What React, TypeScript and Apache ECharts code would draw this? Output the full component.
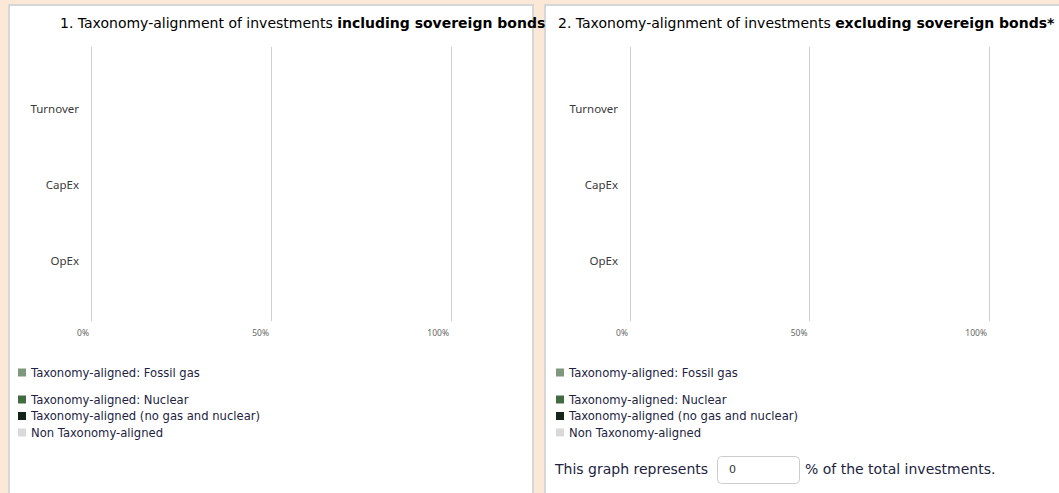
import React, { useEffect, useRef } from "react";
import * as echarts from "echarts";

const categories = ["Turnover", "CapEx", "OpEx"];
const seriesNames = [
  "Taxonomy-aligned: Fossil gas",
  "Taxonomy-aligned: Nuclear",
  "Taxonomy-aligned (no gas and nuclear)",
  "Non Taxonomy-aligned",
];
const seriesColors = ["#7f977d", "#426b42", "#15241a", "#d9d9d9"];
// Panel 1: including sovereign bonds (all values are 0 in the picture)
const inclFossilGas = [0, 0, 0];
const inclNuclear = [0, 0, 0];
const inclAligned = [0, 0, 0];
const inclNonAligned = [0, 0, 0];
// Panel 2: excluding sovereign bonds
const exclFossilGas = [0, 0, 0];
const exclNuclear = [0, 0, 0];
const exclAligned = [0, 0, 0];
const exclNonAligned = [0, 0, 0];
const xTicks = [0, 50, 100];
const shareOfInvestments = "0";

const panelData = [
  [inclFossilGas, inclNuclear, inclAligned, inclNonAligned],
  [exclFossilGas, exclNuclear, exclAligned, exclNonAligned],
];

const NAVY = "#22243f";
const CAT_FONT = "'Noto Sans', Lato, sans-serif";
const MAIN_FONT = "'DejaVu Sans', sans-serif";

export default function App() {
  const ref = useRef<HTMLDivElement>(null);

  useEffect(() => {
    if (!ref.current) return;
    const chart = echarts.init(ref.current, undefined, { renderer: "svg" });

    const panels = [
      { left: 91, width: 360, legendLeft: 13 },
      { left: 630, width: 359, legendLeft: 551 },
    ];

    const grid: any[] = [];
    const xAxis: any[] = [];
    const yAxis: any[] = [];
    const series: any[] = [];
    const legend: any[] = [];

    const legendText = { color: NAVY, fontSize: 11.6, fontFamily: MAIN_FONT, lineHeight: 13 };

    panels.forEach((p, pi) => {
      grid.push({ left: p.left, width: p.width, top: 47, height: 274 });
      grid.push({ left: p.left, width: p.width, top: 70, height: 228 });
      const g0 = pi * 2;
      const g1 = pi * 2 + 1;
      xAxis.push({
        type: "value",
        gridIndex: g0,
        min: 0,
        max: 100,
        interval: 50,
        axisLine: { show: false },
        axisTick: { show: false },
        splitLine: { show: true, lineStyle: { color: "#cfcfcf", width: 1 } },
        axisLabel: {
          formatter: (v: number) => (xTicks.includes(v) ? v + "%" : ""),
          color: "#666",
          fontSize: 8.5,
          fontFamily: CAT_FONT,
          align: "right",
          margin: 7,
          padding: [0, 2, 0, 0],
        },
      });
      xAxis.push({
        type: "value",
        gridIndex: g1,
        min: 0,
        max: 100,
        show: false,
      });
      yAxis.push({
        type: "category",
        gridIndex: g0,
        data: categories,
        show: false,
      });
      yAxis.push({
        type: "category",
        gridIndex: g1,
        data: categories,
        inverse: true,
        axisLine: { show: false },
        axisTick: { show: false },
        axisLabel: {
          color: "#3a3a3a",
          fontSize: 11.5,
          fontFamily: CAT_FONT,
          margin: 12,
        },
      });
      seriesNames.forEach((name, si) => {
        series.push({
          type: "bar",
          name,
          xAxisIndex: g1,
          yAxisIndex: g1,
          stack: "p" + pi,
          barWidth: 30,
          itemStyle: { color: seriesColors[si] },
          data: panelData[pi][si],
        });
      });
      legend.push({
        orient: "vertical",
        left: p.legendLeft,
        top: 361,
        itemWidth: 8,
        itemHeight: 8,
        itemGap: 3.5,
        icon: "rect",
        selectedMode: false,
        data: [seriesNames[0]],
        textStyle: legendText,
      });
      legend.push({
        orient: "vertical",
        left: p.legendLeft,
        top: 388,
        itemWidth: 8,
        itemHeight: 8,
        itemGap: 3.5,
        icon: "rect",
        selectedMode: false,
        data: seriesNames.slice(1),
        textStyle: legendText,
      });
    });

    const titleRich = {
      n: { fontSize: 14, fontFamily: MAIN_FONT, color: NAVY },
      b: { fontSize: 14, fontFamily: MAIN_FONT, color: NAVY, fontWeight: "bold" },
    };

    chart.setOption({
      animation: false,
      backgroundColor: "transparent",
      grid,
      xAxis,
      yAxis,
      series,
      legend,
      graphic: [
        {
          type: "text",
          left: 60,
          top: 16,
          style: {
            text: "{n|1. Taxonomy-alignment of investments }{b|including sovereign bonds}",
            rich: titleRich,
          },
        },
        {
          type: "text",
          left: 558,
          top: 16,
          style: {
            text: "{n|2. Taxonomy-alignment of investments }{b|excluding sovereign bonds*}",
            rich: titleRich,
          },
        },
        {
          type: "text",
          left: 555,
          top: 462,
          style: {
            text: "This graph represents",
            fontSize: 14,
            fontFamily: MAIN_FONT,
            fill: NAVY,
          },
        },
        {
          type: "rect",
          shape: { x: 717.5, y: 456.5, width: 82, height: 27, r: 4 },
          style: { fill: "#fff", stroke: "#cccccc", lineWidth: 1 },
        },
        {
          type: "text",
          left: 729,
          top: 464,
          style: {
            text: shareOfInvestments,
            fontSize: 11,
            fontFamily: MAIN_FONT,
            fill: "#333",
          },
        },
        {
          type: "text",
          left: 805,
          top: 462,
          style: {
            text: "% of the total investments.",
            fontSize: 14,
            fontFamily: MAIN_FONT,
            fill: NAVY,
          },
        },
      ],
    });

    return () => chart.dispose();
  }, []);

  return (
    <div
      style={{
        position: "fixed",
        left: 0,
        top: 0,
        width: 1059,
        height: 493,
        background: "#fce8d6",
        overflow: "hidden",
      }}
    >
      <div
        style={{
          position: "absolute",
          left: 8,
          top: 4,
          width: 522,
          height: 520,
          background: "#fff",
          border: "2px solid #d6d6d6",
        }}
      />
      <div
        style={{
          position: "absolute",
          left: 544,
          top: 4,
          width: 560,
          height: 520,
          background: "#fff",
          border: "2px solid #d6d6d6",
        }}
      />
      <div
        ref={ref}
        style={{ position: "absolute", left: 0, top: 0, width: 1059, height: 493 }}
      />
    </div>
  );
}
